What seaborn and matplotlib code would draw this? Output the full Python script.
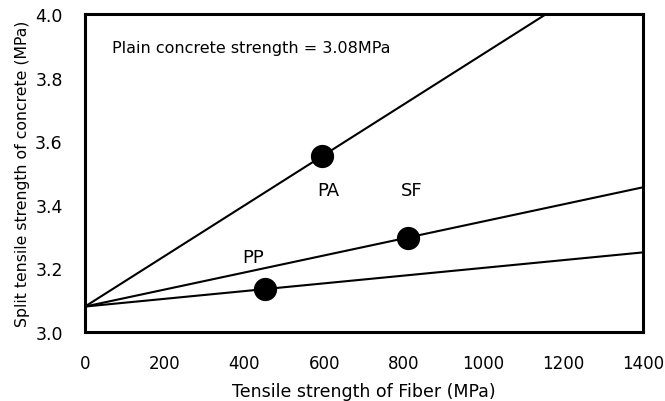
import matplotlib
matplotlib.use("Agg")
import matplotlib.pyplot as plt
import seaborn as sns
import numpy as np
import pandas as pd

# Data
fibers = ["PA", "SF", "PP"]
fiber_strength = [595, 810, 452]          # MPa
concrete_strength = [3.553, 3.297, 3.135]  # MPa
plain_strength = 3.08
x_range = [0, 1400]
label_x = [610, 820, 421]
label_y = [3.447, 3.447, 3.236]
x_ticks = [0, 200, 400, 600, 800, 1000, 1200, 1400]
y_ticks = [3.0, 3.2, 3.4, 3.6, 3.8, 4.0]

sns.set_theme(style="white")
plt.rcParams['font.family'] = ['DejaVu Sans']
plt.rcParams['text.color'] = 'black'
plt.rcParams['axes.labelcolor'] = 'black'
plt.rcParams['xtick.color'] = 'black'
plt.rcParams['ytick.color'] = 'black'

fig = plt.figure(figsize=(6.65, 4.02), dpi=100)
ax = fig.add_axes([85/665, 1 - 333/402, (643-85)/665, (333-15)/402])

# lines from plain concrete strength through each point
rows = []
for name, xs, ys in zip(fibers, fiber_strength, concrete_strength):
    slope = (ys - plain_strength) / xs
    for xv in x_range:
        rows.append({"fiber": name, "x": xv, "y": plain_strength + slope * xv})
lines = pd.DataFrame(rows)
sns.lineplot(data=lines, x="x", y="y", units="fiber", estimator=None,
             color="black", linewidth=1.5, ax=ax, legend=False)

pts = pd.DataFrame({"fiber": fibers, "x": fiber_strength, "y": concrete_strength})
sns.scatterplot(data=pts, x="x", y="y", color="black", s=280, edgecolor="black",
                linewidth=0, ax=ax, zorder=5, legend=False)

for name, lx, ly in zip(fibers, label_x, label_y):
    ax.text(lx, ly, name, ha="center", va="center", fontsize=13, color="black")

ax.text(68, 3.896, "Plain concrete strength = 3.08MPa", ha="left", va="center",
        fontsize=11.5, color="black")

ax.set_xlim(0, 1400)
ax.set_ylim(3.0, 4.0)
ax.set_xticks(x_ticks)
ax.set_yticks(y_ticks)
ax.set_xticklabels([str(t) for t in x_ticks], fontsize=12)
ax.set_yticklabels([f"{t:.1f}" for t in y_ticks], fontsize=12.5)
ax.tick_params(axis="both", direction="in", length=3, width=0.8, color="#444444",
               labelcolor="black")
ax.tick_params(axis="x", pad=16)
ax.tick_params(axis="y", pad=16)

ax.set_xlabel("Tensile strength of Fiber (MPa)", fontsize=12.5, labelpad=7, color="black")
ax.set_ylabel("Split tensile strength of concrete (MPa)", fontsize=11.3, labelpad=4, color="black")

for sp in ax.spines.values():
    sp.set_visible(True)
    sp.set_color("black")
    sp.set_linewidth(2.2)

fig.savefig("out.png", dpi=100)
